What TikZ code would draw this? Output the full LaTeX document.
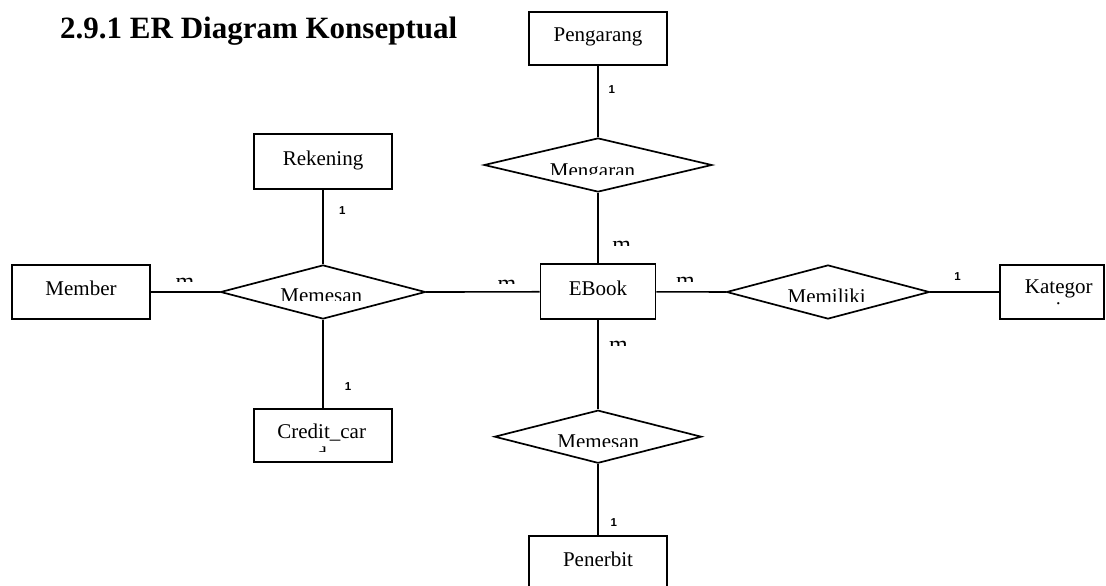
\documentclass[tikz,border=0pt]{standalone}
\usepackage{fontspec}
\setmainfont{Liberation Serif}
\newfontfamily\cardfont{Liberation Sans}
\usetikzlibrary{shapes.geometric}

\tikzset{
  entity/.style={draw, rectangle, inner sep=0pt, line width=1.7pt,
    text height=14pt, text depth=7pt, font=\fontsize{21}{23}\selectfont},
  relation/.style={draw, diamond, aspect=4, inner sep=0pt, line width=1.7pt},
  nametext/.style={inner sep=0pt, anchor=base, font=\fontsize{21}{23}\selectfont},
  cardone/.style={inner sep=0pt, anchor=base, font=\cardfont\bfseries\fontsize{11.5}{13}\selectfont},
  cardmany/.style={inner sep=0pt, anchor=base, font=\fontsize{24}{26}\selectfont},
  link/.style={draw, line width=1.7pt},
}

% text cut off below a given line: name, x, baseline, clip top, clip bottom, style, text
\newcommand\cuttext[7]{%
  \begin{scope}
    \clip (#2-90,#4) rectangle (#2+90,#5);
    \node[#6] (#1) at (#2,#3) {#7};
  \end{scope}}

\begin{document}
\begin{tikzpicture}[x=1pt,y=-1pt]
  \path[fill=white] (0,0) rectangle (1106,586);
  \clip (0,0) rectangle (1106,586);

  % heading
  \node[anchor=base west, inner sep=0pt, font=\bfseries\fontsize{31}{34}\selectfont]
    (title) at (60,39) {2.9.1 ER Diagram Konseptual};

  % entities
  \node[entity, minimum width=138pt, minimum height=53pt] (pengarang) at (598,38.5) {Pengarang};
  \node[entity, minimum width=138pt, minimum height=55pt] (rekening) at (323,161.8) {Rekening};
  \node[entity, minimum width=138pt, minimum height=54pt] (member) at (81,292) {Member};
  \node[entity, minimum width=115pt, minimum height=55pt] (ebook) at (598,291.8) {EBook};
  \node[entity, minimum width=104pt, minimum height=54pt] (kategori) at (1052,292) {};
  \node[entity, minimum width=138pt, minimum height=53pt] (credit) at (323,435.8) {};
  \node[entity, minimum width=138pt, minimum height=54pt] (penerbit) at (598,563) {Penerbit};

  % relationships
  \node[relation, minimum width=228pt, minimum height=54pt] (mengarang) at (598,165) {};
  \node[relation, minimum width=205pt, minimum height=54pt] (memesanA) at (323,292) {};
  \node[relation, minimum width=203pt, minimum height=54pt] (memiliki) at (828,292) {};
  \node[relation, minimum width=207pt, minimum height=53pt] (memesanB) at (598,436.7) {};

  % connectors
  \path[link] (pengarang) -- (mengarang);
  \path[link] (mengarang) -- (ebook);
  \path[link] (ebook) -- (memesanB);
  \path[link] (memesanB) -- (penerbit);
  \path[link] (rekening) -- (memesanA);
  \path[link] (memesanA) -- (credit);
  \path[link] (member) -- (memesanA);
  \path[link] (memesanA) -- (ebook);
  \path[link] (ebook) -- (memiliki);
  \path[link] (memiliki) -- (kategori);

  % relationship names, cut at the bottom
  \cuttext{tMengarang}{592.5}{177.5}{150}{174}{nametext}{Mengaran}
  \cuttext{tMemesanA}{321.3}{302.5}{275}{300.3}{nametext}{Memesan}
  \cuttext{tMemiliki}{826.7}{303}{275}{301.8}{nametext}{Memiliki}
  \cuttext{tMemesanB}{598.3}{448.5}{420}{446.7}{nametext}{Memesan}

  % wrapped entity names, second line mostly hidden
  \begin{scope}
    \clip (1002,268) rectangle (1102,304.5);
    \node[nametext] (tKategori) at (1058.8,293.3) {Kategor};
    \node[nametext] (tKategoriB) at (1058.5,316.3) {i};
  \end{scope}
  \begin{scope}
    \clip (256,412) rectangle (389,451.5);
    \node[nametext] (tCredit) at (321.7,438) {Credit\_car};
    \node[nametext] (tCreditB) at (321.7,461) {d};
  \end{scope}

  % cardinalities: one
  \node[cardone] (c1) at (611.7,93) {1};
  \node[cardone] (c2) at (342.2,214.3) {1};
  \node[cardone] (c3) at (348,390.7) {1};
  \node[cardone] (c4) at (957.5,280.7) {1};
  \node[cardone] (c5) at (613.7,526) {1};

  % cardinalities: many, only the top of the letter shows
  \cuttext{m1}{185}{289.3}{275}{281.8}{cardmany}{m}
  \cuttext{m2}{507}{291}{276}{283.5}{cardmany}{m}
  \cuttext{m3}{685.5}{288.7}{274}{281.6}{cardmany}{m}
  \cuttext{m4}{621.7}{252.7}{238}{245.4}{cardmany}{m}
  \cuttext{m5}{618.5}{352.7}{338}{345.5}{cardmany}{m}
\end{tikzpicture}
\end{document}
